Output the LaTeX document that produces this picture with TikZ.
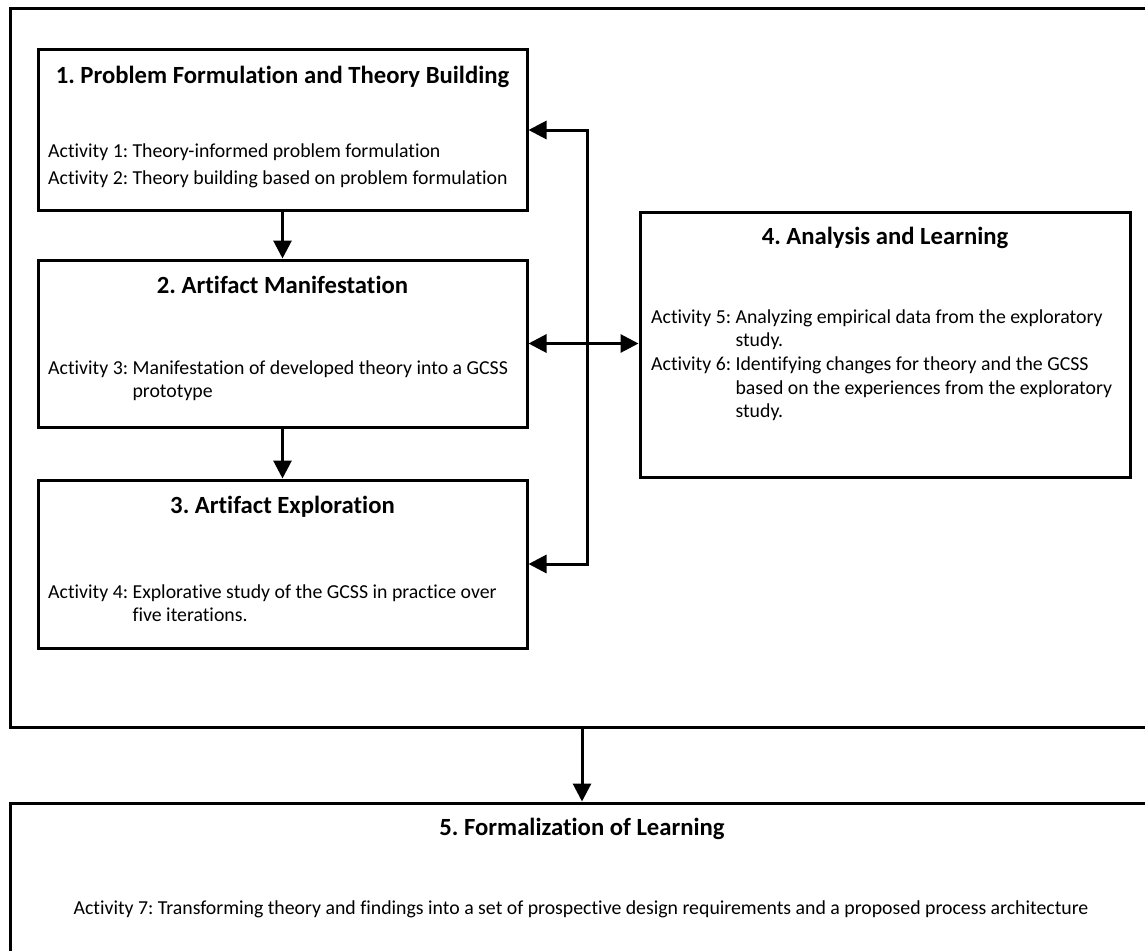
\documentclass[tikz,border=0pt]{standalone}
\usepackage{fontspec}
\setmainfont{Carlito}[Ligatures=NoCommon]
\usetikzlibrary{arrows.meta}
\frenchspacing
\begin{document}
\begin{tikzpicture}[x=1pt,y=-1pt,
  box/.style={draw=black, line width=3pt, rectangle, inner sep=0pt},
  ttl/.style={font=\fontsize{24.7}{30}\selectfont\bfseries, inner sep=0pt, anchor=base},
  act/.style={font=\fontsize{19.8}{23.7}\selectfont, inner sep=0pt, anchor=base west},
  tipA/.tip={Triangle[length=18pt,width=18pt]},
  arr/.style={line width=3pt, -tipA},
  darr/.style={line width=3pt, tipA-tipA, line join=miter},
]
\useasboundingbox (0,0) rectangle (1145,950);
\clip (0,0) rectangle (1145,950);
\fill[white] (0,0) rectangle (1145,950);

% outer frame and boxes
\node[box, minimum width=1144pt, minimum height=718pt] (outer) at (582,368) {};
\node[box, minimum width=489pt, minimum height=160pt] (box1) at (282.5,130) {};
\node[box, minimum width=489pt, minimum height=167pt] (box2) at (282.5,343.5) {};
\node[box, minimum width=489pt, minimum height=168pt] (box3) at (282.5,564) {};
\node[box, minimum width=490pt, minimum height=265pt] (box4) at (885,344.5) {};
\node[box, minimum width=1144pt, minimum height=250pt] (box5) at (582,928) {};

% titles
\node[ttl] (t1) at (282.5,83) {1. Problem Formulation and Theory Building};
\node[ttl] (t2) at (282.5,293) {2. Artifact Manifestation};
\node[ttl] (t3) at (282.5,513) {3. Artifact Exploration};
\node[ttl] (t4) at (885,244) {4. Analysis and Learning};
\node[ttl] (t5) at (582,835) {5. Formalization of Learning};

% activities
\node[act] (a1) at (48,157) {\begin{tabular}[t]{@{}l@{\ }l@{}}Activity 1: & Theory-informed problem formulation\\[3.3pt]
Activity 2: & Theory building based on problem formulation\end{tabular}};
\node[act] (a3) at (48,374) {\begin{tabular}[t]{@{}l@{\ }l@{}}Activity 3: & Manifestation of developed theory into a GCSS\\
 & prototype\end{tabular}};
\node[act] (a4) at (48,598) {\begin{tabular}[t]{@{}l@{\ }l@{}}Activity 4: & Explorative study of the GCSS in practice over\\
 & five iterations.\end{tabular}};
\node[act] (a5) at (651,323) {\begin{tabular}[t]{@{}l@{\ }l@{}}Activity 5: & Analyzing empirical data from the exploratory\\
 & study.\\
Activity 6: & Identifying changes for theory and the GCSS\\
 & based on the experiences from the exploratory\\
 & study.\end{tabular}};
\node[act, anchor=base] (a7) at (581,914) {Activity 7: Transforming theory and findings into a set of prospective design requirements and a proposed process architecture};

% connectors
\coordinate (lx) at (587,0);
\draw[arr] (box1.south) -- (box2.north);
\draw[arr] (box2.south) -- (box3.north);
\draw[darr] (box1.east) -- (box1.east -| lx) -- (box3.east -| lx) -- (box3.east);
\draw[darr] (box2.east) -- (box2.east -| box4.west);
\draw[arr] (outer.south) -- (box5.north);
\end{tikzpicture}
\end{document}
